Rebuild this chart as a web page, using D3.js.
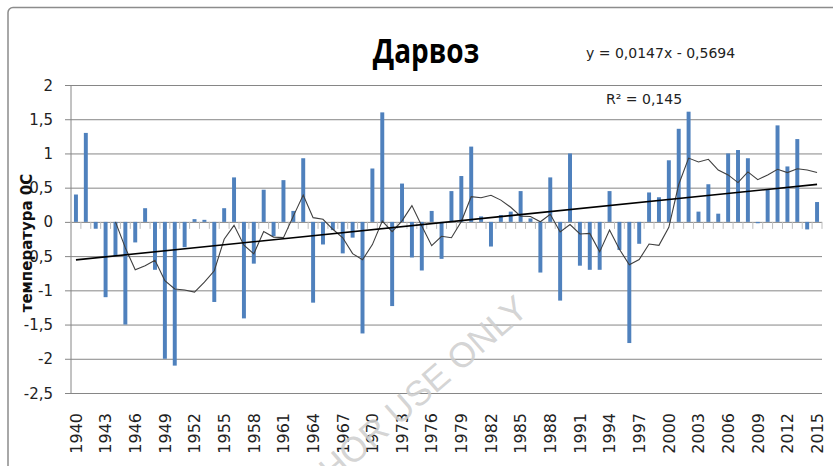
<!DOCTYPE html>
<html><head><meta charset="utf-8">
<script src="https://cdn.jsdelivr.net/npm/d3@7"></script>
<style>html,body{margin:0;padding:0;background:#fff;}svg{display:block;}</style>
</head><body>
<svg id="chart" width="833" height="466"></svg>
<script>
const years = [1940,1941,1942,1943,1944,1945,1946,1947,1948,1949,1950,1951,1952,1953,1954,1955,1956,1957,1958,1959,
1960,1961,1962,1963,1964,1965,1966,1967,1968,1969,1970,1971,1972,1973,1974,1975,1976,1977,1978,1979,
1980,1981,1982,1983,1984,1985,1986,1987,1988,1989,1990,1991,1992,1993,1994,1995,1996,1997,1998,1999,
2000,2001,2002,2003,2004,2005,2006,2007,2008,2009,2010,2011,2012,2013,2014,2015];
const anomalies = [0.40,1.30,-0.10,-1.10,-0.50,-1.50,-0.30,0.20,-0.70,-2.00,
-2.10,-0.37,0.04,0.03,-1.17,0.20,0.65,-1.41,-0.61,0.47,
-0.21,0.61,0.16,0.93,-1.18,-0.33,-0.12,-0.46,-0.23,-1.63,
0.78,1.60,-1.23,0.56,-0.52,-0.71,0.16,-0.54,0.45,0.67,
1.10,0.08,-0.36,0.10,0.15,0.45,0.05,-0.74,0.65,-1.15,
1.00,-0.64,-0.70,-0.70,0.45,-0.41,-1.77,-0.32,0.43,0.36,
0.90,1.36,1.61,0.15,0.55,0.12,1.00,1.05,0.93,-0.02,
0.47,1.41,0.81,1.21,-0.11,0.29];
const xTickLabels = years.filter((y,i)=> i%3===0);
const yTicks = [2,1.5,1,0.5,0,-0.5,-1,-1.5,-2,-2.5];
const trendSlope = 0.0147, trendIntercept = -0.5694;
const maPeriod = 5;
const titleText = "Дарвоз";
const eqText = "y = 0,0147x - 0,5694";
const r2Text = "R² = 0,145";
const yTitle = "температура  0С";
const watermark = "FOR AUTHOR USE ONLY";

const svg = d3.select("#chart");
const L=71, R=822, T=85, B=393;
const x = d3.scaleBand().domain(years).range([L,R]).paddingInner(0.6).paddingOuter(0.3);
const y = d3.scaleLinear().domain([-2.5,2]).range([B,T]);
const cx = yr => x(yr) + x.bandwidth()/2;
const fmt = v => String(v).replace(".", ",");

// frame
svg.append("rect").attr("x",8).attr("y",7.5).attr("width",900).attr("height",600).attr("rx",5)
  .attr("fill","#fff").attr("stroke","#8c8c8c").attr("stroke-width",1.5);

// y grid + ticks
const yAxis = d3.axisLeft(y).tickValues(yTicks).tickSize(-(R-L)).tickFormat(fmt);
const gy = svg.append("g").attr("transform",`translate(${L},0)`).call(yAxis);
gy.select(".domain").remove();
gy.selectAll(".tick line").attr("stroke","#868686").attr("x1",-6);
gy.selectAll(".tick text").attr("x",-18).attr("font-family","DejaVu Sans, sans-serif")
  .attr("font-size",15).attr("fill","#222").attr("dy","0.34em");
svg.append("line").attr("x1",L).attr("x2",L).attr("y1",T).attr("y2",B).attr("stroke","#868686");

// bars
svg.append("g").selectAll("rect").data(years).join("rect")
  .attr("x", d=>x(d)).attr("width", x.bandwidth())
  .attr("y", (d,i)=> y(Math.max(0,anomalies[i])))
  .attr("height", (d,i)=> Math.abs(y(anomalies[i])-y(0)))
  .attr("fill","#4F81BD");

// category ticks on zero line
const step = x.step();
svg.append("g").selectAll("line").data(d3.range(years.length+1)).join("line")
  .attr("x1", k=>L+k*step).attr("x2", k=>L+k*step)
  .attr("y1", y(0)).attr("y2", y(0)+7).attr("stroke","#bdbdbd");

// x labels
svg.append("g").selectAll("text").data(xTickLabels).join("text")
  .attr("transform", d=>`translate(${cx(d)},413) rotate(-90)`)
  .attr("text-anchor","end").attr("dy","0.36em")
  .attr("font-family","DejaVu Sans, sans-serif").attr("font-size",16).attr("fill","#222")
  .text(d=>d);

// moving average
const ma = [];
anomalies.forEach((v,i)=>{ if(i>=maPeriod-1){ ma.push({yr:years[i], v:d3.mean(anomalies.slice(i-maPeriod+1,i+1))}); } });
svg.append("path").datum(ma).attr("fill","none").attr("stroke","#3f3f3f").attr("stroke-width",1.1)
  .attr("d", d3.line().x(d=>cx(d.yr)).y(d=>y(d.v)));

// trend line
const trend = [years[0], years[years.length-1]].map(yr=>({yr, v: trendSlope*(years.indexOf(yr)+1)+trendIntercept}));
svg.append("path").datum(trend).attr("fill","none").attr("stroke","#000").attr("stroke-width",1.6)
  .attr("d", d3.line().x(d=>cx(d.yr)).y(d=>y(d.v)));

// watermark
svg.append("text").attr("transform","translate(530,312) rotate(-41)")
  .attr("text-anchor","end").attr("font-family","Liberation Sans, Arial, sans-serif")
  .attr("font-size",35).attr("fill","#cfcfcf").attr("fill-opacity",0.9).text(watermark);

// texts
svg.append("text").attr("transform","translate(426,63) scale(1,1.18)").attr("text-anchor","middle")
  .attr("font-family","Open Sans, sans-serif").attr("font-weight","bold")
  .attr("font-size",28).attr("fill","#000").text(titleText);
svg.append("text").attr("x",586).attr("y",58).attr("font-family","DejaVu Sans, sans-serif")
  .attr("font-size",14).attr("fill","#222").text(eqText);
svg.append("text").attr("x",606).attr("y",104).attr("font-family","DejaVu Sans, sans-serif")
  .attr("font-size",14).attr("fill","#222").text(r2Text);
svg.append("text").attr("transform","translate(32,243) rotate(-90)").attr("text-anchor","middle")
  .attr("font-family","DejaVu Sans, sans-serif").attr("font-weight","bold")
  .attr("font-size",15).attr("fill","#111").text(yTitle);
</script>
</body></html>
